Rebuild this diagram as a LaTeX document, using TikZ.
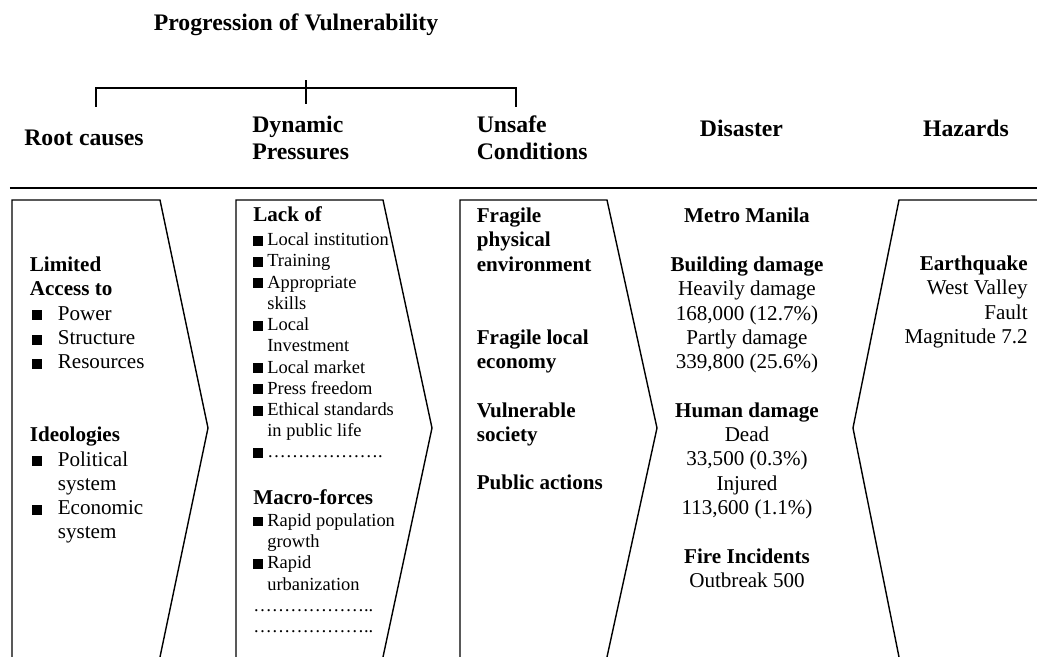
\documentclass[tikz,border=0pt]{standalone}
\usepackage{fontspec}
\setmainfont{Liberation Serif}
\usepackage{tikz}

\newcommand{\blk}{\rule{5.6pt}{5.6pt}}
\newcommand{\bitem}[1]{\makebox[0.28cm][l]{\blk}#1}
\newcommand{\bindent}{\hspace*{0.28cm}}
\newcommand{\ritem}[1]{\makebox[0.56cm][l]{\hspace{0.04cm}\blk}#1}
\newcommand{\rindent}{\hspace*{0.56cm}}

\begin{document}
\begin{tikzpicture}[
		hdr/.style={font=\fontsize{13.5}{15.5}\selectfont\bfseries, inner sep=0pt, align=left},
		txt/.style={font=\fontsize{12}{13.83}\selectfont, inner sep=0pt},
		boldtxt/.style={font=\fontsize{12}{13.83}\selectfont\bfseries, inner sep=0pt},
		small/.style={font=\fontsize{10.5}{12.08}\selectfont, inner sep=0pt, align=left},
		frame/.style={line width=0.8pt, line join=miter}
	]
			\useasboundingbox (0,0) rectangle (20.74,13.14);
			
			\node [hdr, anchor=base] (title) at (5.92,12.52) {Progression of Vulnerability};
			
			\coordinate (bl) at (1.92,11.0);
			\coordinate (br) at (10.32,11.0);
			\coordinate (bm) at (6.12,11.53);
			\draw [frame] (bl) -- ++(0,0.38) -| (br);
			\draw [frame] (bm) -- ++(0,-0.47);
			
			\node [hdr, anchor=base west] (rootHdr) at (0.48,10.22) {Root causes};
			\node [hdr, anchor=base west] (dynHdr) at (5.04,9.95) {Dynamic\\Pressures};
			\node [hdr, anchor=base west] (unsafeHdr) at (9.53,9.95) {Unsafe\\Conditions};
			\node [hdr, anchor=base] (disHdr) at (14.83,10.4) {Disaster};
			\node [hdr, anchor=base] (hazHdr) at (19.32,10.4) {Hazards};
			
			\draw [line width=1.1pt] (0.2,9.38) -- (20.74,9.38);
			
			\foreach \l/\r/\t in {0.24/3.2/4.16, 4.72/7.66/8.64, 9.2/12.14/13.14}
			{
				\draw [frame] (\l,0) -- (\l,9.14) -- (\r,9.14) -- (\t,4.58) -- (\r,0);
			}
			\draw [frame] (20.74,9.14) -- (17.98,9.14) -- (17.06,4.58) -- (17.98,0);
			
			\node [txt, align=left, anchor=base west] (rootTxt) at (0.59,2.36)
				{\textbf{Limited}\\\textbf{Access to}\\\ritem{Power}\\\ritem{Structure}\\\ritem{Resources}\\[27.66pt]
				\textbf{Ideologies}\\\ritem{Political}\\\rindent system\\\ritem{Economic}\\\rindent system};
			
			\node [boldtxt, anchor=base west] (lackHd) at (5.06,8.706) {Lack of};
			\node [small, anchor=base west] (lackTxt) at (5.06,3.98)
				{\bitem{Local institution}\\\bitem{Training}\\\bitem{Appropriate}\\\bindent skills\\\bitem{Local}\\\bindent Investment\\
				\bitem{Local market}\\\bitem{Press freedom}\\\bitem{Ethical standards}\\\bindent in public life\\\bitem{……………….}};
			\node [boldtxt, anchor=base west] (macroHd) at (5.06,3.04) {Macro-forces};
			\node [small, anchor=base west] (macroTxt) at (5.06,0.49)
				{\bitem{Rapid population}\\\bindent growth\\\bitem{Rapid}\\\bindent urbanization\\………………..\\………………..};
			
			\node [boldtxt, align=left, anchor=base west] (unsafeTxt) at (9.53,3.34)
				{Fragile\\physical\\environment\\[27.66pt]Fragile local\\economy\\[13.83pt]Vulnerable\\society\\[13.83pt]Public actions};
			
			\node [txt, align=center, anchor=base] (disTxt) at (14.94,1.39)
				{\textbf{Metro Manila}\\[13.83pt]\textbf{Building damage}\\Heavily damage\\168,000 (12.7\%)\\Partly damage\\339,800 (25.6\%)\\[13.83pt]
				\textbf{Human damage}\\Dead\\33,500 (0.3\%)\\Injured\\113,600 (1.1\%)\\[13.83pt]\textbf{Fire Incidents}\\Outbreak 500};
			
			\node [txt, align=right, anchor=base east] (hazTxt) at (20.56,6.27)
				{\textbf{Earthquake}\\West Valley\\Fault\\Magnitude 7.2};
		\end{tikzpicture}
\end{document}
